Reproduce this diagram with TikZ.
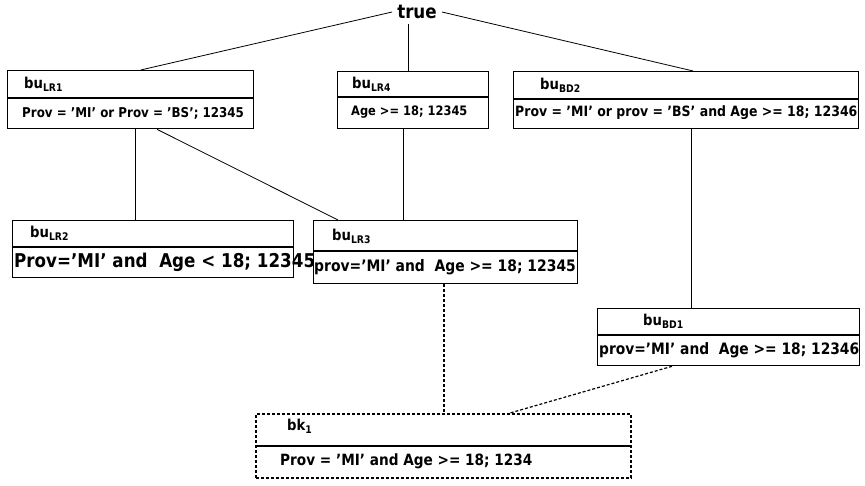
\documentclass[tikz,border=0pt]{standalone}
\usepackage{fontspec}
\setmainfont{DejaVu Sans}[FakeStretch=0.88]
\usepackage{tikz}

\tikzset{
  box/.style={draw, line width=1.3pt, anchor=north west, inner sep=0pt},
  divider/.style={line width=1.2pt},
  lbl/.style={anchor=west, inner sep=0pt, font=\bfseries},
  link/.style={line width=0.8pt},
  dots/.style={dash pattern=on 3pt off 2pt},
  dlink/.style={line width=1.2pt, dots}
}
\newcommand{\fs}[1]{\fontsize{#1}{#1}\selectfont}

\begin{document}
\begin{tikzpicture}[x=1pt,y=-1pt]

\useasboundingbox (0,0) rectangle (865,485);

\node [font=\bfseries\fs{19}, inner sep=5pt] (true) at (417,12) {true};

% first row
\node [box, minimum width=246pt, minimum height=58pt] (lr1) at (7,70) {};
\node [box, minimum width=151pt, minimum height=57pt] (lr4) at (337,71) {};
\node [box, minimum width=345pt, minimum height=57pt] (bd2) at (513,71) {};

% second row
\node [box, minimum width=281pt, minimum height=57pt] (lr2) at (12,220) {};
\node [box, minimum width=264pt, minimum height=63pt] (lr3) at (313,220) {};
\node [box, minimum width=262pt, minimum height=57pt] (bd1) at (597,308) {};

% result
\node [box, dots, line width=1.6pt, minimum width=375pt, minimum height=64pt] (bk1) at (255,413) {};

\draw [divider] (lr1.west |- 0,98) -- (lr1.east |- 0,98);
\draw [divider] (lr4.west |- 0,97) -- (lr4.east |- 0,97);
\draw [divider] (bd2.west |- 0,99) -- (bd2.east |- 0,99);
\draw [divider] (lr2.west |- 0,247) -- (lr2.east |- 0,247);
\draw [divider] (lr3.west |- 0,251) -- (lr3.east |- 0,251);
\draw [divider] (bd1.west |- 0,335) -- (bd1.east |- 0,335);
\draw [divider] (bk1.west |- 0,446) -- (bk1.east |- 0,446);

\node [lbl, font=\bfseries\fs{15}] (lr1a) at (24,84) {bu\textsubscript{LR1}};
\node [lbl, font=\bfseries\fs{13.5}] (lr1b) at (22,113) {Prov = 'MI' or Prov = 'BS'; 12345};
\node [lbl, font=\bfseries\fs{15}] (lr4a) at (352,84) {bu\textsubscript{LR4}};
\node [lbl, font=\bfseries\fs{13}] (lr4b) at (351,112) {Age >= 18; 12345};
\node [lbl, font=\bfseries\fs{15}] (bd2a) at (540,85) {bu\textsubscript{BD2}};
\node [lbl, font=\bfseries\fs{14.2}] (bd2b) at (515,113) {Prov = 'MI' or prov = 'BS' and Age >= 18; 12346};

\node [lbl, font=\bfseries\fs{15}] (lr2a) at (30,233) {bu\textsubscript{LR2}};
\node [lbl, font=\bfseries\fs{19}] (lr2b) at (14,262) {Prov='MI' and\ \ Age < 18; 12345};
\node [lbl, font=\bfseries\fs{15}] (lr3a) at (332,236) {bu\textsubscript{LR3}};
\node [lbl, font=\bfseries\fs{15.8}] (lr3b) at (314,267) {prov='MI' and\ \ Age >= 18; 12345};
\node [lbl, font=\bfseries\fs{15}] (bd1a) at (643,321) {bu\textsubscript{BD1}};
\node [lbl, font=\bfseries\fs{15.7}] (bd1b) at (599,350) {prov='MI' and\ \ Age >= 18; 12346};

\node [lbl, font=\bfseries\fs{15}] (bk1a) at (287,426) {bk\textsubscript{1}};
\node [lbl, font=\bfseries\fs{15.5}] (bk1b) at (280,461) {Prov = 'MI' and Age >= 18; 1234};

\draw [link] (true.west) -- ([xshift=10pt]lr1.north);
\draw [link] (true.south -| 408,0) -- (lr4.north -| 408,0);
\draw [link] (true.east) -- ([xshift=7pt]bd2.north);
\draw [link] (lr1.south -| 135,0) -- (lr2.north -| 135,0);
\draw [link] (lr1.south -| 157,0) -- (lr3.north -| 338,0);
\draw [link] (lr4.south -| 403,0) -- (lr3.north -| 403,0);
\draw [link] (bd2.south -| 691,0) -- (bd1.north -| 691,0);
\draw [dlink] (lr3.south -| 444,0) -- (bk1.north -| 444,0);
\draw [dlink] (bd1.south -| 672,0) -- (bk1.north -| 510,0);

\end{tikzpicture}
\end{document}
